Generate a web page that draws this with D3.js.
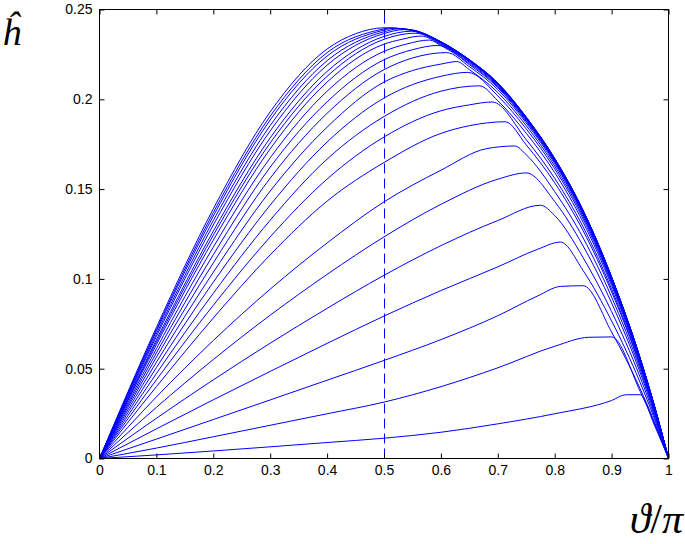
<!DOCTYPE html>
<html><head><meta charset="utf-8">
<script src="https://cdn.jsdelivr.net/npm/d3@7"></script>
<style>body{margin:0;background:#fff} svg{display:block}</style>
</head><body>
<svg id="chart" width="685" height="544"></svg>
<script>
const xTicks = [0,0.1,0.2,0.3,0.4,0.5,0.6,0.7,0.8,0.9,1];
const xTickLabels = ["0","0.1","0.2","0.3","0.4","0.5","0.6","0.7","0.8","0.9","1"];
const yTicks = [0,0.05,0.1,0.15,0.2,0.25];
const yTickLabels = ["0","0.05","0.1","0.15","0.2","0.25"];
const refLineX = 0.5;

const c01 = [[0,0],[0.1,0.002],[0.2,0.0042],[0.3,0.0065],[0.4,0.0089],[0.5,0.0113],[0.6,0.0146],[0.7,0.0193],[0.8,0.0249],[0.9,0.0323],[0.925,0.0355],[0.95,0.0355],[0.975,0.0187],[1,0]];
const c02 = [[0,0],[0.1,0.0058],[0.2,0.0121],[0.3,0.0185],[0.4,0.0249],[0.5,0.0314],[0.6,0.040],[0.7,0.0505],[0.8,0.0625],[0.86,0.0675],[0.9,0.0677],[0.95,0.0375],[0.975,0.0198],[1,0]];
const c03 = [[0,0],[0.1,0.0108],[0.2,0.0217],[0.3,0.0326],[0.4,0.0436],[0.5,0.0546],[0.6,0.0662],[0.7,0.0795],[0.77,0.0905],[0.81,0.0958],[0.85,0.0962],[0.9,0.0704],[0.95,0.039],[0.975,0.0206],[1,0]];
const c04 = [[0,0],[0.1,0.0165],[0.2,0.0327],[0.3,0.0485],[0.4,0.0641],[0.5,0.0793],[0.6,0.0935],[0.7,0.1067],[0.77,0.1165],[0.81,0.1205],[0.85,0.1046],[0.9,0.0766],[0.95,0.0424],[0.975,0.0224],[1,0]];
const c05 = [[0,0],[0.1,0.0224],[0.2,0.0438],[0.3,0.0642],[0.4,0.0836],[0.5,0.102],[0.6,0.1185],[0.7,0.1325],[0.775,0.141],[0.8,0.1353],[0.85,0.1118],[0.9,0.0818],[0.95,0.0454],[0.975,0.0239],[1,0]];
const c06 = [[0,0],[0.1,0.0285],[0.2,0.0551],[0.3,0.0798],[0.4,0.1025],[0.5,0.1234],[0.6,0.1415],[0.7,0.1555],[0.75,0.159],[0.8,0.1431],[0.85,0.1183],[0.9,0.0866],[0.95,0.048],[0.975,0.0253],[1,0]];
const c07 = [[0,0],[0.1,0.0343],[0.2,0.0657],[0.3,0.0943],[0.4,0.12],[0.5,0.1429],[0.6,0.1605],[0.68,0.1725],[0.73,0.174],[0.75,0.1691],[0.8,0.1486],[0.85,0.1228],[0.9,0.0899],[0.95,0.0498],[0.975,0.0263],[1,0]];
const c08 = [[0,0],[0.1,0.040],[0.2,0.0782],[0.3,0.1134],[0.4,0.1433],[0.5,0.1648],[0.6,0.181],[0.65,0.1853],[0.713,0.1875],[0.75,0.1746],[0.8,0.1535],[0.85,0.1268],[0.9,0.0928],[0.95,0.0515],[0.975,0.0271],[1,0]];
const c09 = [[0,0],[0.1,0.0438],[0.2,0.0853],[0.3,0.1234],[0.4,0.1556],[0.5,0.179],[0.6,0.1936],[0.65,0.1969],[0.69,0.1985],[0.75,0.1775],[0.8,0.156],[0.85,0.1289],[0.9,0.0943],[0.95,0.0523],[0.975,0.0276],[1,0]];
const c10 = [[0,0],[0.1,0.0473],[0.2,0.092],[0.3,0.1327],[0.4,0.1667],[0.5,0.1904],[0.6,0.2045],[0.668,0.2075],[0.7,0.1992],[0.75,0.1811],[0.8,0.1592],[0.85,0.1315],[0.9,0.0963],[0.95,0.0534],[0.975,0.0281],[1,0]];
const c11 = [[0,0],[0.1,0.0506],[0.2,0.0982],[0.3,0.1411],[0.4,0.1762],[0.5,0.2007],[0.6,0.2128],[0.647,0.215],[0.7,0.2019],[0.75,0.1835],[0.8,0.1613],[0.85,0.1333],[0.9,0.0976],[0.95,0.0541],[0.975,0.0285],[1,0]];
const c12 = [[0,0],[0.1,0.0536],[0.2,0.1037],[0.3,0.1489],[0.4,0.1845],[0.5,0.2096],[0.55,0.216],[0.6,0.2196],[0.628,0.221],[0.65,0.2165],[0.7,0.2038],[0.75,0.1853],[0.8,0.1628],[0.85,0.1346],[0.9,0.0985],[0.95,0.0546],[0.975,0.0288],[1,0]];
const c13 = [[0,0],[0.1,0.0564],[0.2,0.1089],[0.3,0.1561],[0.4,0.1922],[0.5,0.2165],[0.55,0.223],[0.61,0.226],[0.65,0.2182],[0.7,0.2054],[0.75,0.1868],[0.8,0.1642],[0.85,0.1357],[0.9,0.0993],[0.95,0.055],[0.975,0.029],[1,0]];
const c14 = [[0,0],[0.1,0.0588],[0.2,0.1135],[0.3,0.1622],[0.4,0.1986],[0.5,0.222],[0.55,0.2276],[0.595,0.23],[0.65,0.2193],[0.7,0.2065],[0.75,0.1877],[0.8,0.165],[0.85,0.1363],[0.9,0.0998],[0.95,0.0553],[0.975,0.0291],[1,0]];
const c15 = [[0,0],[0.1,0.0611],[0.2,0.1177],[0.3,0.1674],[0.4,0.2045],[0.5,0.2267],[0.54,0.2308],[0.58,0.233],[0.6,0.2299],[0.65,0.22],[0.7,0.2071],[0.75,0.1883],[0.8,0.1655],[0.85,0.1368],[0.9,0.1001],[0.95,0.0555],[0.975,0.0292],[1,0]];
const c16 = [[0,0],[0.1,0.0634],[0.2,0.1216],[0.3,0.1724],[0.4,0.2096],[0.5,0.2307],[0.53,0.2333],[0.565,0.2352],[0.6,0.2306],[0.65,0.2207],[0.7,0.2077],[0.75,0.1889],[0.8,0.166],[0.85,0.1372],[0.9,0.1004],[0.95,0.0557],[0.975,0.0293],[1,0]];
const c17 = [[0,0],[0.1,0.0648],[0.2,0.1243],[0.3,0.1757],[0.4,0.2128],[0.5,0.2334],[0.556,0.2368],[0.6,0.2311],[0.65,0.2211],[0.7,0.2082],[0.75,0.1892],[0.8,0.1663],[0.85,0.1374],[0.9,0.1006],[0.95,0.0558],[0.975,0.0294],[1,0]];
const c18 = [[0,0],[0.1,0.0661],[0.2,0.1266],[0.3,0.1785],[0.4,0.2155],[0.5,0.235],[0.548,0.2379],[0.6,0.2314],[0.65,0.2214],[0.7,0.2085],[0.75,0.1895],[0.8,0.1666],[0.85,0.1377],[0.9,0.1007],[0.95,0.0559],[0.975,0.0294],[1,0]];
const c19 = [[0,0],[0.1,0.068],[0.2,0.13],[0.3,0.1824],[0.4,0.219],[0.5,0.2366],[0.535,0.2388],[0.6,0.2317],[0.65,0.2217],[0.7,0.2087],[0.75,0.1897],[0.8,0.1667],[0.85,0.1378],[0.9,0.1008],[0.95,0.0559],[0.975,0.0295],[1,0]];
const c20 = [[0,0],[0.1,0.0693],[0.2,0.1325],[0.3,0.1854],[0.4,0.2215],[0.5,0.2376],[0.525,0.2392],[0.55,0.2383],[0.6,0.2318],[0.65,0.2218],[0.7,0.2088],[0.75,0.1898],[0.8,0.1668],[0.85,0.1379],[0.9,0.1009],[0.95,0.0559],[0.975,0.0295],[1,0]];
const c21 = [[0,0],[0.1,0.0708],[0.2,0.135],[0.3,0.1885],[0.4,0.2241],[0.5,0.2385],[0.515,0.2395],[0.55,0.2385],[0.6,0.232],[0.65,0.222],[0.7,0.209],[0.75,0.19],[0.8,0.167],[0.85,0.138],[0.9,0.101],[0.95,0.056],[0.975,0.0295],[1,0]];
const c22 = [[0,0],[0.1,0.0718],[0.2,0.1369],[0.3,0.1906],[0.4,0.226],[0.5,0.2392],[0.508,0.2397],[0.55,0.2385],[0.6,0.232],[0.65,0.222],[0.7,0.209],[0.75,0.19],[0.8,0.167],[0.85,0.138],[0.9,0.101],[0.95,0.056],[0.975,0.0295],[1,0]];
const c23 = [[0,0],[0.1,0.073],[0.2,0.139],[0.3,0.193],[0.4,0.228],[0.45,0.2365],[0.5,0.2398],[0.55,0.2386],[0.6,0.2321],[0.65,0.2221],[0.7,0.2091],[0.75,0.1901],[0.8,0.1671],[0.85,0.1381],[0.9,0.1011],[0.95,0.0561],[0.975,0.0296],[1,0]];

const curves = [c01,c02,c03,c04,c05,c06,c07,c08,c09,c10,c11,c12,c13,c14,c15,c16,c17,c18,c19,c20,c21,c22,c23];

const svg = d3.select("#chart");
const x = d3.scaleLinear().domain([0,1]).range([99.5,668.5]);
const y = d3.scaleLinear().domain([0,0.25]).range([458.5,9.5]);
const BLUE = "#0000ff";
const tickFont = "'Liberation Sans', Arial, sans-serif";

const line = d3.line().x(d=>x(d[0])).y(d=>y(d[1])).curve(d3.curveMonotoneX);

svg.append("g").selectAll("path").data(curves).join("path")
  .attr("d", line).attr("fill","none").attr("stroke",BLUE).attr("stroke-width",1);

svg.append("line")
  .attr("x1", Math.round(x(refLineX))+0.5).attr("x2", Math.round(x(refLineX))+0.5)
  .attr("y1", y(0)).attr("y2", y(0.25))
  .attr("stroke",BLUE).attr("stroke-width",1).attr("stroke-dasharray","10,5");

function styleAxis(g){
  g.select(".domain").remove();
  g.selectAll(".tick line").attr("stroke","#000");
  g.selectAll(".tick text").attr("fill","#000").style("font-family",tickFont).style("font-size","14px");
}
const axB = svg.append("g").attr("transform",`translate(0,${y(0)})`)
  .call(d3.axisBottom(x).tickValues(xTicks).tickSize(-5).tickPadding(7).tickFormat((d,i)=>xTickLabels[i]));
styleAxis(axB);
const axT = svg.append("g").attr("transform",`translate(0,${y(0.25)})`)
  .call(d3.axisTop(x).tickValues(xTicks).tickSize(-5).tickFormat(""));
styleAxis(axT);
const axL = svg.append("g").attr("transform",`translate(${x(0)},0)`)
  .call(d3.axisLeft(y).tickValues(yTicks).tickSize(-5).tickPadding(7).tickFormat((d,i)=>yTickLabels[i]));
styleAxis(axL);
const axR = svg.append("g").attr("transform",`translate(${x(1)},0)`)
  .call(d3.axisRight(y).tickValues(yTicks).tickSize(-5).tickFormat(""));
styleAxis(axR);

svg.append("rect").attr("x",x(0)).attr("y",y(0.25)).attr("width",x(1)-x(0)).attr("height",y(0)-y(0.25))
  .attr("fill","none").attr("stroke","#000").attr("stroke-width",1);

svg.append("text").attr("x",2).attr("y",45)
  .style("font-family","'Liberation Serif','DejaVu Serif',serif").style("font-style","italic").style("font-size","38px")
  .text("ĥ");

const xl = svg.append("text").attr("x",683).attr("y",533).attr("text-anchor","end")
  .style("font-family","'Liberation Serif','DejaVu Serif',serif").style("font-size","42px");
xl.append("tspan").style("font-style","italic").text("ϑ");
xl.append("tspan").text("/");
xl.append("tspan").style("font-style","italic").text("π");
</script>
</body></html>
